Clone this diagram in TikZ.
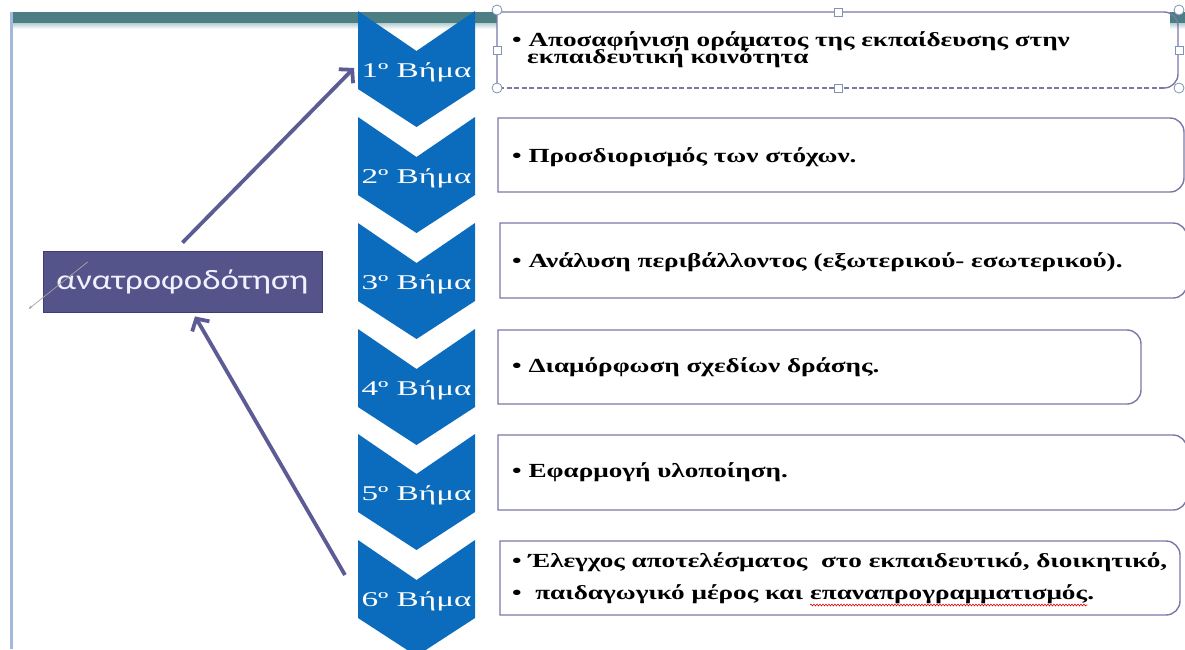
\documentclass[tikz,border=0pt]{standalone}
\usepackage{fontspec}
\setmainfont{Liberation Serif}
\newfontfamily\calfont{Carlito}
\usetikzlibrary{arrows.meta,decorations.pathmorphing}
\definecolor{barteal}{HTML}{4B7F83}
\definecolor{barlight}{HTML}{B4CDCF}
\definecolor{edgeblue}{HTML}{A3B9D9}
\definecolor{chevblue}{HTML}{0B6CBD}
\definecolor{boxedge}{HTML}{7A79A6}
\definecolor{fbfill}{HTML}{55548A}
\definecolor{fbedge}{HTML}{403F72}
\definecolor{arrowcol}{HTML}{5D5B95}
\definecolor{handlecol}{HTML}{8193B5}
\newcommand\bxs[1]{\scalebox{1.36}[1]{#1}}
\newcommand\rrbox[5][]{\draw[boxline,#1] (#2,#3) -- ({#4-14},#3) .. controls ({#4-6.3},#3) and (#4,{#3+6.3}) .. (#4,{#3+14}) -- (#4,{#5-14}) .. controls (#4,{#5-6.3}) and ({#4-6.3},#5) .. ({#4-14},#5) -- (#2,#5) -- cycle;}
\newcommand\chevshape[1]{\fill[chevfill] (358,#1) -- (416.5,{#1+40}) -- (475,#1) -- (475,{#1+78}) -- (416.5,{#1+116}) -- (358,{#1+78}) -- cycle;}
\tikzset{
  boxline/.style={draw=boxedge, line width=1.4pt, fill=white},
  chevfill/.style={fill=chevblue},
  chevtext/.style={anchor=base, inner sep=0pt, text=white, font=\fontsize{21}{21}\selectfont},
  boxtext/.style={anchor=base west, inner sep=0pt, font=\bfseries\fontsize{20}{20}\selectfont},
  fbnode/.style={fill=fbfill, draw=fbedge, line width=0.8pt, minimum width=279pt, minimum height=61pt, inner sep=0pt, text=white!94!blue, font=\calfont\fontsize{28}{28}\selectfont},
  fbarrow/.style={draw=arrowcol, line width=3.8pt, -{Straight Barb[length=9pt,width=20pt]}},
  thinarrow/.style={draw=gray!70!white, line width=0.7pt, -{Stealth[length=4pt,width=3pt]}},
  hcirc/.style={circle, draw=handlecol, fill=white, line width=0.8pt, minimum size=10pt, inner sep=0pt},
  hsq/.style={rectangle, draw=handlecol, fill=white, line width=0.8pt, minimum size=8pt, inner sep=0pt},
  squig/.style={draw=red!85!black, line width=0.6pt, decorate, decoration={snake, amplitude=0.9pt, segment length=3pt}}
}
\begin{document}
\begin{tikzpicture}[x=1pt,y=-1pt]
\useasboundingbox (0,0) rectangle (1185,649);
\fill[white] (0,0) rectangle (1185,649);
% top bar and left edge
\fill[barteal] (10,12) rectangle (1185,23);
\shade[top color=barlight, bottom color=white] (10,23) rectangle (1185,29);
\fill[edgeblue] (10,12) rectangle (12.5,649);
% chevrons
\chevshape{11}
\chevshape{117}
\chevshape{223}
\chevshape{329}
\chevshape{434}
\chevshape{540}
\coordinate (k1) at (358,11);
\coordinate (k6) at (358,540);
\node[chevtext] (s1) at (416.5,77) {\resizebox{110pt}{\height}{1º Βήμα}};
\node[chevtext] (s2) at (416.5,183) {\resizebox{110pt}{\height}{2º Βήμα}};
\node[chevtext] (s3) at (416.5,289) {\resizebox{110pt}{\height}{3º Βήμα}};
\node[chevtext] (s4) at (416.5,395) {\resizebox{110pt}{\height}{4º Βήμα}};
\node[chevtext] (s5) at (416.5,500) {\resizebox{110pt}{\height}{5º Βήμα}};
\node[chevtext] (s6) at (416.5,606) {\resizebox{110pt}{\height}{6º Βήμα}};
% box 1 (selected)
\fill[white] (497,12) rectangle (1170,88);
\draw[boxline, fill=none] (497,88) -- (497,12) -- (1164,12) .. controls (1171.7,12) and (1178,18.3) .. (1178,26) -- (1178,74) .. controls (1178,81.7) and (1171.7,88) .. (1164,88);
\draw[draw=boxedge, line width=1.4pt, dash pattern=on 5pt off 2.5pt] (1164,88) -- (497,88);
\node[hcirc] (h1) at (497,10) {};
\node[hcirc] (h2) at (1179,10) {};
\node[hcirc] (h3) at (497,88) {};
\node[hcirc] (h4) at (1179,88) {};
\node[hsq] (h5) at (838,12) {};
\node[hsq] (h6) at (838,88) {};
\node[hsq] (h7) at (497,50) {};
\node[hsq] (h8) at (1179,50) {};
\node[boxtext] (t1a) at (512,46) {\bxs{• Αποσαφήνιση οράματος της εκπαίδευσης στην}};
\node[boxtext] (t1b) at (527,63) {\bxs{εκπαιδευτική κοινότητα}};
% other boxes
\rrbox{498}{118}{1184}{192}
\rrbox{500}{223}{1187}{298}
\rrbox{498}{330}{1141}{404}
\rrbox{498}{435}{1187}{510}
\rrbox{500}{541}{1180}{615}
\node[boxtext] (t2) at (512,162) {\bxs{• Προσδιορισμός των στόχων.}};
\node[boxtext] (t3) at (512,267) {\bxs{• Ανάλυση περιβάλλοντος (εξωτερικού- εσωτερικού).}};
\node[boxtext] (t4) at (512,372) {\bxs{• Διαμόρφωση σχεδίων δράσης.}};
\node[boxtext] (t5) at (512,477) {\bxs{• Εφαρμογή υλοποίηση.}};
\node[boxtext] (t6a) at (512,567) {\bxs{• Έλεγχος αποτελέσματος\ \ στο εκπαιδευτικό, διοικητικό,}};
\node[boxtext] (t6b) at (512,599) {\bxs{•\ \ παιδαγωγικό μέρος και\ }};
\node[boxtext] (t6w) at (t6b.base east) {\bxs{επαναπρογραμματισμός}};
\node[boxtext] (t6p) at (t6w.base east) {\bxs{.}};
\draw[squig] ([yshift=-6pt]t6w.base west) -- ([yshift=-6pt]t6w.base east);
% feedback node
\node[fbnode] (fb) at (182.5,281.5) {\resizebox{252pt}{\height}{ανατροφοδότηση}};
\draw[thinarrow] ([xshift=45pt,yshift=19.5pt]fb.west) -- ([xshift=-14pt,yshift=-27.5pt]fb.west);
% arrows
\draw[fbarrow] ([yshift=8pt]fb.north) -- ([xshift=-4pt,yshift=-57pt]k1);
\draw[fbarrow] ([xshift=-13pt,yshift=-35pt]k6) -- ([xshift=12.5pt,yshift=-4pt]fb.south);
\end{tikzpicture}
\end{document}
